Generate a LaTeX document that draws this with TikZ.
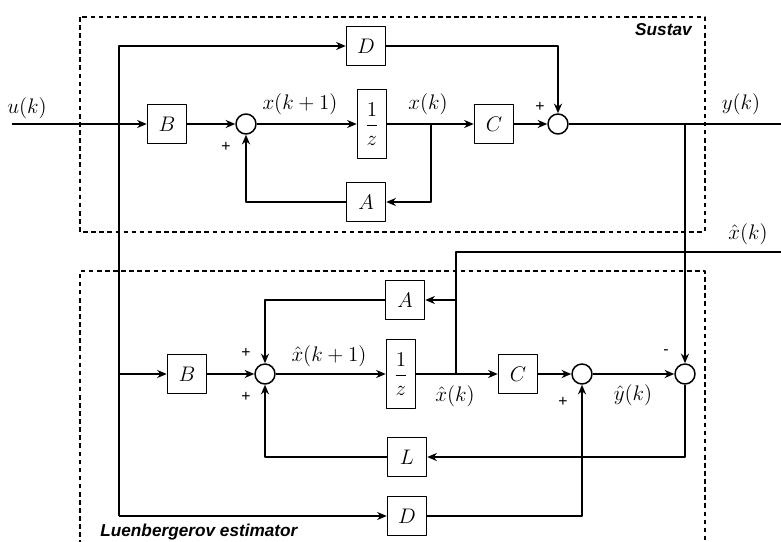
\documentclass[tikz,border=0pt]{standalone}
\usepackage{amsmath}
\usepackage{fontspec}
\newfontfamily\hvfont{Liberation Sans}
\usetikzlibrary{arrows.meta}

\begin{document}
\begin{tikzpicture}[x=0.02cm,y=-0.02cm,line join=round,
  font=\fontsize{11.5}{13}\selectfont,
  blk/.style={draw,line width=0.85pt,inner sep=0pt,minimum width=0.78cm,minimum height=0.78cm},
  dly/.style={blk,minimum width=0.58cm,minimum height=1.38cm},
  sumc/.style={draw,circle,line width=0.85pt,inner sep=0pt,minimum size=0.4cm},
  wire/.style={line width=0.85pt},
  arr/.style={wire,-{Stealth[length=5.5pt,width=4.6pt]}},
  frame/.style={line width=0.6pt,dash pattern=on 2.6pt off 2pt},
  sig/.style={inner sep=0.5pt},
  sgn/.style={font=\hvfont\small,inner sep=0pt},
  ttl/.style={font=\hvfont\bfseries\itshape\fontsize{9.8}{11}\selectfont,inner sep=0pt}]
\useasboundingbox (0,0) rectangle (781,541);
% frames
\draw[frame] (80,17) rectangle (705,232);
\draw[frame] (80,545) -- (80,271) -- (705,271) -- (705,545);
\node[ttl,anchor=east] (tSys) at (692,30) {Sustav};
\node[ttl,anchor=west] (tEst) at (100,532) {Luenbergerov estimator};
% plant
\node[blk] (D1) at (366,46) {$D$};
\node[blk] (B1) at (167,124) {$B$};
\node[sumc] (S1) at (246,124) {};
\node[dly] (Z1) at (372,124) {$\dfrac{1}{z}$};
\node[blk] (C1) at (494,124) {$C$};
\node[sumc] (S2) at (558,124) {};
\node[blk] (A1) at (366,202) {$A$};
% estimator
\node[blk] (A2) at (405,300) {$A$};
\node[blk] (B2) at (187,374) {$B$};
\node[sumc] (S4) at (265,374) {};
\node[dly] (Z2) at (401,374) {$\dfrac{1}{z}$};
\node[blk] (C2) at (518,374) {$C$};
\node[sumc] (S5) at (582,374) {};
\node[sumc] (S3) at (685,374) {};
\node[blk] (L2) at (407,457) {$L$};
\node[blk] (D2) at (407,516) {$D$};
% junctions and open ends
\coordinate (uin) at (12,124);
\coordinate (tapBot) at (119,516);
\coordinate (tapB) at (119,374);
\coordinate (tapX) at (431,124);
\coordinate (tapY) at (685,124);
\coordinate (yout) at (791,124);
\coordinate (tapXh) at (456,374);
\coordinate (tapA) at (456,300);
\coordinate (xhout) at (791,252);
% plant wiring
\draw[arr] (uin) -- (B1);
\draw[arr] (tapBot) |- (D1);
\draw[arr] (B1) -- (S1);
\draw[arr] (S1) -- (Z1);
\draw[arr] (Z1) -- (C1);
\draw[arr] (C1) -- (S2);
\draw[arr] (tapX) |- (A1);
\draw[arr] (A1) -| (S1);
\draw[arr] (D1) -| (S2);
\draw[arr] (S2) -- (yout);
\draw[arr] (tapY) -- (S3);
% estimator wiring
\draw[arr] (tapB) -- (B2);
\draw[arr] (tapBot) -- (D2);
\draw[arr] (B2) -- (S4);
\draw[arr] (S4) -- (Z2);
\draw[arr] (Z2) -- (C2);
\draw[arr] (C2) -- (S5);
\draw[arr] (S5) -- (S3);
\draw[arr] (tapXh) |- (xhout);
\draw[arr] (tapA) -- (A2);
\draw[arr] (A2) -| (S4);
\draw[arr] (S3) |- (L2);
\draw[arr] (L2) -| (S4);
\draw[arr] (D2) -| (S5);
% signal labels
\node[sig] (lu) at (27,108) {$u(k)$};
\node[sig] (lx1) at (300,104) {$x(k+1)$};
\node[sig] (lx) at (428,104) {$x(k)$};
\node[sig] (ly) at (741,104) {$y(k)$};
\node[sig] (lxh) at (748,234) {$\hat{x}(k)$};
\node[sig] (lxh1) at (329,356) {$\hat{x}(k+1)$};
\node[sig] (lxh2) at (455,396) {$\hat{x}(k)$};
\node[sig] (lyh) at (633,395) {$\hat{y}(k)$};
% signs
\node[sgn] (p1) at (226,147) {+};
\node[sgn] (p2) at (540,107) {+};
\node[sgn] (p3) at (246,353) {+};
\node[sgn] (p4) at (246,397) {+};
\node[sgn] (p5) at (563,402) {+};
\node[sgn] (m1) at (666,352) {-};
\end{tikzpicture}
\end{document}
